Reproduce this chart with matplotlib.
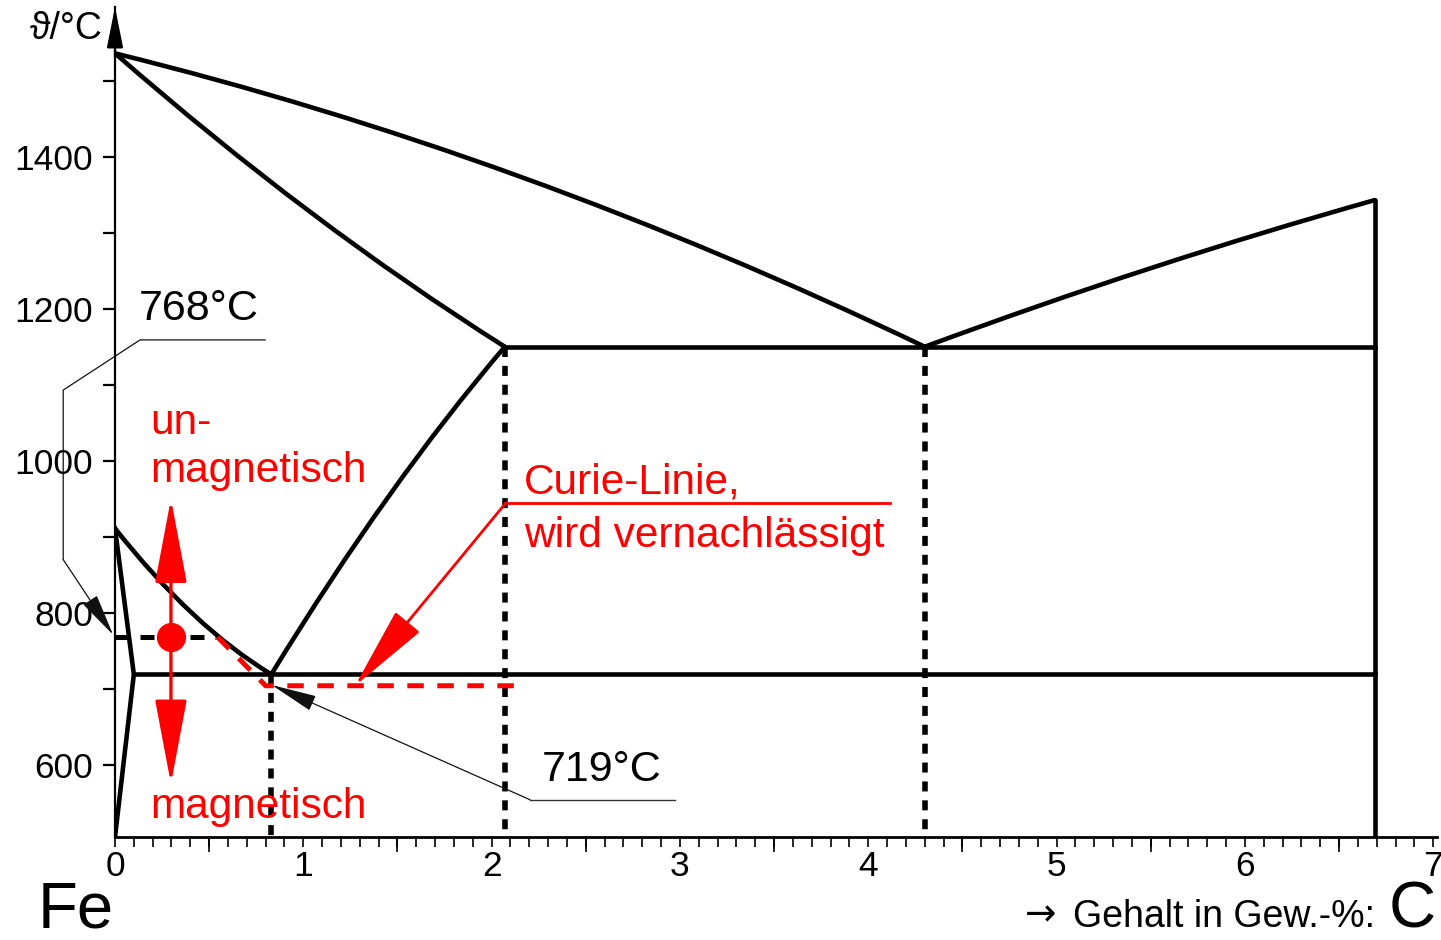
import matplotlib
matplotlib.use("Agg")
import matplotlib.pyplot as plt
from matplotlib.path import Path
from matplotlib.patches import PathPatch
from matplotlib.ticker import MultipleLocator

plt.rcParams['font.family'] = ['Liberation Sans', 'DejaVu Sans']

# phase boundaries of the Fe-C diagram as (wt.-% C, °C);
# each curve is start point, bezier control point, end point
liquidus_x = [0.0, 2.15, 4.30]
liquidus_y = [1536, 1405, 1150]
liquidus_fe3c_x = [4.30, 5.50, 6.69]
liquidus_fe3c_y = [1150, 1260, 1343]
solidus_x = [0.0, 1.035, 2.07]
solidus_y = [1536, 1312, 1150]
a3_x = [0.0, 0.415, 0.83]
a3_y = [911, 781, 719]
acm_x = [0.83, 1.45, 2.07]
acm_y = [719, 970, 1150]
# straight boundary of the ferrite field
ferrite_x = [0.0, 0.1, 0.0]
ferrite_y = [911, 719, 505]

t_eutectic = 1150
t_eutectoid = 719
t_curie = 768
t_curie_low = 704
c_eutectoid = 0.83
c_max_austenite = 2.07
c_eutectic = 4.30
c_cementite = 6.69

x_ticks = [0, 1, 2, 3, 4, 5, 6, 7]
y_ticks = [600, 800, 1000, 1200, 1400]

fig = plt.figure(figsize=(14.41, 9.40), dpi=100)
ax = fig.add_axes([115 / 1441, 103 / 940, 1322 / 1441, 830 / 940])
ax.set_xlim(0, 7.02)
ax.set_ylim(505, 1597)

for s in ['top', 'right']:
    ax.spines[s].set_visible(False)
ax.spines['left'].set_linewidth(1.6)
ax.spines['bottom'].set_linewidth(2)

ax.set_xticks(x_ticks)
ax.set_xticklabels([str(t) for t in x_ticks])
ax.xaxis.set_minor_locator(MultipleLocator(0.1))
ax.tick_params(axis='x', which='both', direction='out', length=7, width=1.2,
               pad=2, labelsize=25.5)
ax.set_yticks(y_ticks)
ax.yaxis.set_minor_locator(MultipleLocator(100))
ax.tick_params(axis='y', which='both', direction='out', length=8.6, width=1.6,
               pad=7, labelsize=25.5)

# longer ticks at the half percent marks
sec = ax.secondary_xaxis('bottom')
sec.set_xticks([0.5 + i for i in range(7)])
sec.tick_params(length=11, width=1.2, labelbottom=False)
sec.spines['bottom'].set_visible(False)

# arrow head on top of the temperature axis
ax.annotate('', xy=(0, 1), xycoords='axes fraction', xytext=(0, 0.94),
            arrowprops=dict(arrowstyle='-|>,head_length=2.5,head_width=0.5',
                            mutation_scale=10, color='black', lw=1.6,
                            shrinkA=0, shrinkB=0), annotation_clip=False)

lw = 3.3


def curve(xs, ys):
    path = Path(list(zip(xs, ys)), [Path.MOVETO, Path.CURVE3, Path.CURVE3])
    ax.add_patch(PathPatch(path, fill=False, edgecolor='black', lw=lw,
                           capstyle='round'))


curve(liquidus_x, liquidus_y)
curve(liquidus_fe3c_x, liquidus_fe3c_y)
curve(solidus_x, solidus_y)
curve(a3_x, a3_y)
curve(acm_x, acm_y)
ax.plot(ferrite_x, ferrite_y, color='black', lw=lw)
ax.plot([c_max_austenite, c_cementite], [t_eutectic, t_eutectic], color='black', lw=lw)
ax.plot([0.1, c_cementite], [t_eutectoid, t_eutectoid], color='black', lw=lw)
ax.plot([c_cementite, c_cementite], [505, liquidus_fe3c_y[-1]], color='black',
        lw=lw, solid_capstyle='round')

# dotted verticals at the characteristic compositions
for cx, ty in [(c_eutectoid, t_eutectoid), (c_max_austenite, t_eutectic),
               (c_eutectic, t_eutectic)]:
    ax.plot([cx, cx], [ty, 505], color='black', lw=4, dashes=(1.8, 1.6))

# Curie temperature (768 °C) and the neglected magnetic boundary
ax.plot([0, 0.535], [t_curie, t_curie], color='black', lw=3.6, dashes=(2.8, 2.2))
ax.plot([0.545, 0.80, 2.17], [t_curie, t_curie_low, t_curie_low], color='red',
        lw=3.6, dashes=(3.3, 2.7))

# magnetic / non-magnetic arrows
dot_x = 0.297
red_head = '-|>,head_length=5.3,head_width=1.0'
for tip in [950, 575]:
    ax.annotate('', xy=(dot_x, tip), xytext=(dot_x, t_curie),
                arrowprops=dict(arrowstyle=red_head, mutation_scale=10, color='red',
                                lw=2.4, shrinkA=0, shrinkB=0))
ax.plot([dot_x], [t_curie], marker='o', ms=20, color='red', mec='red')

ax.text(0.188, 1035, 'un-', color='red', fontsize=30.5, va='baseline')
ax.text(0.188, 972, 'magnetisch', color='red', fontsize=30.5, va='baseline')
ax.text(0.188, 530, 'magnetisch', color='red', fontsize=30.5, va='baseline')

# Curie line note
ax.plot([2.077, 4.116], [945, 945], color='red', lw=2)
ax.annotate('', xy=(1.275, t_curie_low), xytext=(2.077, 945),
            arrowprops=dict(arrowstyle=red_head, mutation_scale=10, color='red',
                            lw=2, shrinkA=0, shrinkB=0))
ax.text(2.172, 957, 'Curie-Linie,', color='red', fontsize=30.5, va='baseline')
ax.text(2.172, 887, 'wird vernachlässigt', color='red', fontsize=30.5, va='baseline')

# leader for 768 °C
ax.plot([0.797, 0.133, -0.275, -0.275], [1159, 1159, 1093, 870],
        color='#111111', lw=0.9, clip_on=False)
ax.annotate('', xy=(-0.01, 771), xytext=(-0.275, 870),
            arrowprops=dict(arrowstyle='-|>,head_length=2.7,head_width=0.52',
                            mutation_scale=10, color='#111111', lw=0.9,
                            shrinkA=0, shrinkB=0, clip_on=False),
            annotation_clip=False)
ax.text(0.125, 1185, '768°C', fontsize=31, va='baseline')

# leader for 719 °C
ax.plot([2.974, 2.204], [554, 554], color='#333333', lw=1.0)
ax.annotate('', xy=(0.832, 705), xytext=(2.204, 554),
            arrowprops=dict(arrowstyle='-|>,head_length=2.9,head_width=0.5',
                            mutation_scale=10, color='#111111', lw=0.9,
                            shrinkA=0, shrinkB=0))
ax.text(2.268, 579, '719°C', fontsize=31, va='baseline')

fig.text(30 / 1441, 1 - 39 / 940, 'ϑ/°C', fontsize=27, va='baseline')
fig.text(38 / 1441, 1 - 928 / 940, 'Fe', fontsize=47, va='baseline')
fig.text(1025 / 1441, 1 - 925 / 940, '→', fontsize=27, va='baseline',
         family='DejaVu Sans')
fig.text(1073 / 1441, 1 - 927 / 940, 'Gehalt in Gew.-%:', fontsize=27, va='baseline')
fig.text(1389 / 1441, 1 - 927 / 940, 'C', fontsize=47, va='baseline')

fig.savefig('out.png', dpi=100)
